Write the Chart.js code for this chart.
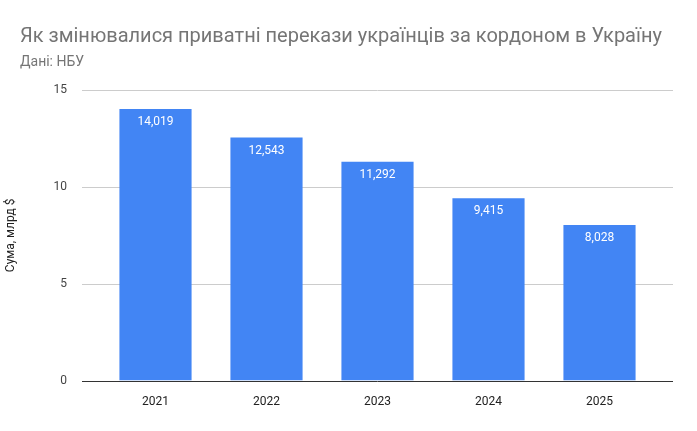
<!DOCTYPE html>
<html><head><meta charset="utf-8">
<script src="https://cdn.jsdelivr.net/npm/chart.js@4"></script>
<style>body{margin:0;background:#fff}#w{width:697px;height:431px}</style>
</head><body><div id="w"><canvas id="c"></canvas></div>
<script>
const categories = ['2021','2022','2023','2024','2025'];
const values = [14.019, 12.543, 11.292, 9.415, 8.028];
const valueLabels = ['14,019','12,543','11,292','9,415','8,028'];
const titleText = 'Як змінювалися приватні перекази українців за кордоном в Україну';
const subtitleText = 'Дані: НБУ';
const font = 'Roboto, Arial, sans-serif';

const deco = {
  id: 'deco',
  beforeDatasetsDraw(chart) {
    const {ctx, scales:{y}} = chart;
    ctx.save();
    [5,10,15].forEach(v => {
      const py = Math.round(y.getPixelForValue(v)) + 0.5;
      ctx.strokeStyle = '#cccccc'; ctx.lineWidth = 1;
      ctx.beginPath(); ctx.moveTo(82, py); ctx.lineTo(673, py); ctx.stroke();
    });
    ctx.restore();
  },
  afterDatasetsDraw(chart) {
    const {ctx, scales:{y}} = chart;
    ctx.save();
    const py = Math.round(y.getPixelForValue(0)) + 0.5;
    ctx.strokeStyle = '#333333'; ctx.lineWidth = 1;
    ctx.beginPath(); ctx.moveTo(82, py); ctx.lineTo(673, py); ctx.stroke();
    const meta = chart.getDatasetMeta(0);
    ctx.fillStyle = '#ffffff'; ctx.font = '12px ' + font;
    ctx.textAlign = 'center'; ctx.textBaseline = 'top';
    meta.data.forEach((b, i) => ctx.fillText(valueLabels[i], b.x, b.y + 7));
    ctx.textAlign = 'left'; ctx.textBaseline = 'alphabetic';
    ctx.fillStyle = '#757575'; ctx.font = '20px ' + font;
    ctx.fillText(titleText, 20, 42);
    ctx.font = '14px ' + font;
    ctx.fillText(subtitleText, 20, 66);
    ctx.restore();
  }
};

new Chart(document.getElementById('c'), {
  type: 'bar',
  data: { labels: categories, datasets: [{ data: values, backgroundColor: '#4285f4', barPercentage: 0.65, categoryPercentage: 1 }] },
  options: {
    responsive: true, maintainAspectRatio: false, animation: false,
    layout: { padding: { top: 90, right: 42, bottom: 16, left: 0 } },
    plugins: { legend: { display: false }, tooltip: { enabled: false } },
    scales: {
      x: { grid: { display: false }, border: { display: false },
           ticks: { color: '#222', font: { family: font, size: 12 }, padding: 6 } },
      y: { min: 0, max: 15, grid: { display: false }, border: { display: false },
           afterFit(s) { s.width = 100; },
           ticks: { stepSize: 5, color: '#444', font: { family: font, size: 12 }, padding: 25 },
           title: { display: true, text: 'Сума, млрд $', color: '#222', font: { family: font, size: 12 }, padding: { bottom: 0 } } }
    }
  },
  plugins: [deco]
});
</script></body></html>
